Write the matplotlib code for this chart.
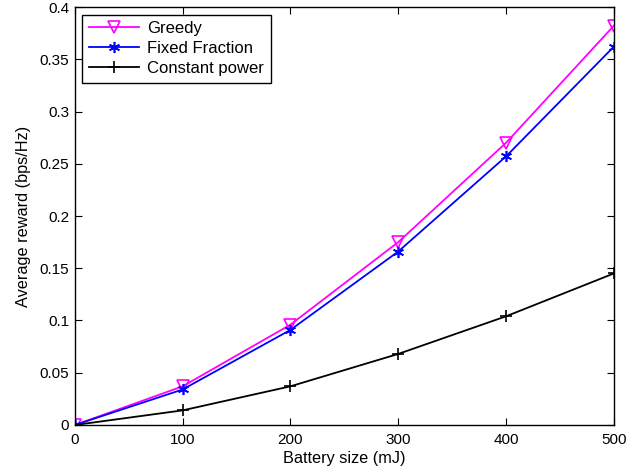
import matplotlib
matplotlib.use("Agg")
import matplotlib.pyplot as plt

plt.rcParams['font.family'] = ['Liberation Sans', 'DejaVu Sans']

battery = [0, 100, 200, 300, 400, 500]
greedy = [0, 0.037, 0.096, 0.175, 0.270, 0.382]
fixed_fraction = [0, 0.034, 0.091, 0.166, 0.257, 0.362]
constant_power = [0, 0.014, 0.037, 0.068, 0.104, 0.145]

fig = plt.figure(figsize=(6.4, 4.72), dpi=100)
ax = fig.add_axes([0.117, 0.0996, 0.842, 0.8855])

ax.plot(battery, greedy, color='#ff00ff', marker='v', markerfacecolor='none',
        markersize=9, markeredgewidth=1.2, linewidth=1.3, label='Greedy')
ax.plot(battery, fixed_fraction, color='#0000ff', marker=(6, 2, 0),
        markersize=8, markeredgewidth=1.2, linewidth=1.3, label='Fixed Fraction')
ax.plot(battery, constant_power, color='black', marker='+',
        markersize=9, markeredgewidth=1.2, linewidth=1.3, label='Constant power')

ax.set_xlim(0, 500)
ax.set_ylim(0, 0.4)
ax.set_xticks([0, 100, 200, 300, 400, 500])
ax.set_yticks([0, 0.05, 0.1, 0.15, 0.2, 0.25, 0.3, 0.35, 0.4])
ax.set_yticklabels(['0', '0.05', '0.1', '0.15', '0.2', '0.25', '0.3', '0.35', '0.4'])
ax.tick_params(direction='in', top=True, right=True, labelsize=11, length=5)
ax.tick_params(axis='x', pad=6)
ax.tick_params(axis='y', pad=4)
ax.set_xlabel('Battery size (mJ)', fontsize=11.7, labelpad=3)
ax.set_ylabel('Average reward (bps/Hz)', fontsize=11.7, labelpad=6)
for s in ax.spines.values():
    s.set_linewidth(1.0)

leg = ax.legend(loc='upper left', fontsize=12, fancybox=False, edgecolor='black',
                framealpha=1, borderpad=0.4, handlelength=3.0, labelspacing=0.3,
                borderaxespad=0.45, handletextpad=0.5)
leg.get_frame().set_linewidth(1.0)

fig.savefig('out.png', dpi=100)
